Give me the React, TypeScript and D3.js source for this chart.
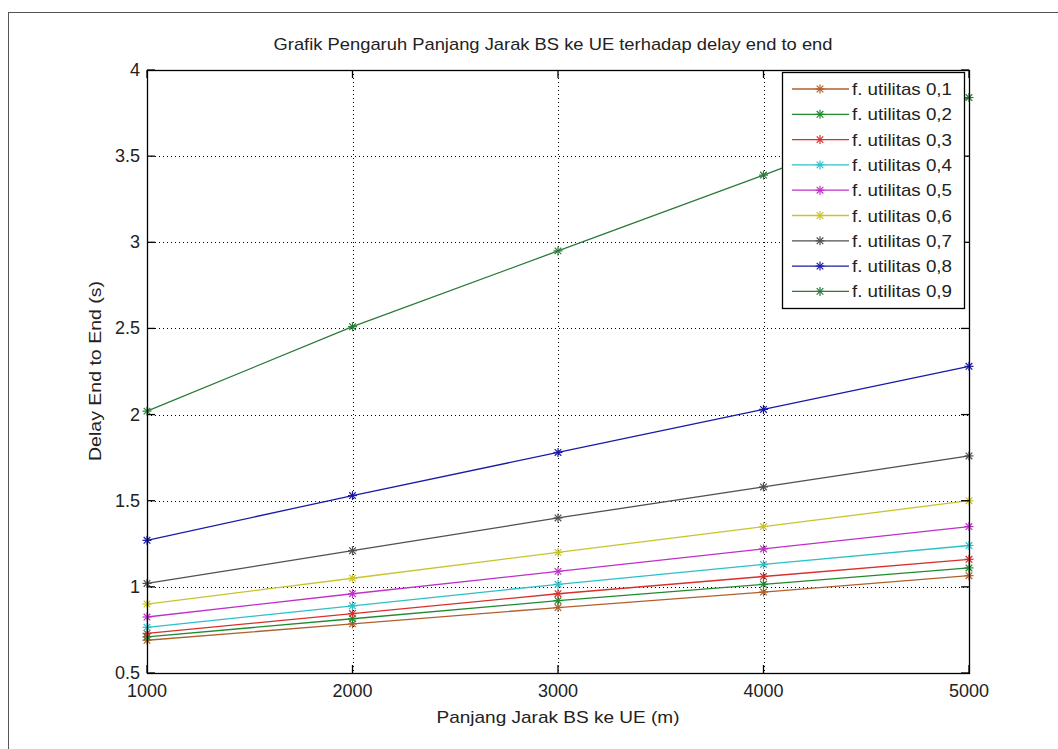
import React from "react";
import * as d3 from "d3";

const distances = [1000, 2000, 3000, 4000, 5000];
const xTicks = [1000, 2000, 3000, 4000, 5000];
const yTicks = [0.5, 1, 1.5, 2, 2.5, 3, 3.5, 4];
const seriesNames = [
  "f. utilitas 0,1", "f. utilitas 0,2", "f. utilitas 0,3", "f. utilitas 0,4", "f. utilitas 0,5",
  "f. utilitas 0,6", "f. utilitas 0,7", "f. utilitas 0,8", "f. utilitas 0,9",
];
const u01 = [0.69, 0.785, 0.88, 0.97, 1.065];
const u02 = [0.71, 0.815, 0.92, 1.015, 1.11];
const u03 = [0.73, 0.845, 0.96, 1.06, 1.16];
const u04 = [0.765, 0.89, 1.015, 1.13, 1.24];
const u05 = [0.825, 0.96, 1.09, 1.22, 1.35];
const u06 = [0.9, 1.05, 1.2, 1.35, 1.5];
const u07 = [1.02, 1.21, 1.4, 1.58, 1.76];
const u08 = [1.27, 1.53, 1.78, 2.03, 2.28];
const u09 = [2.02, 2.51, 2.95, 3.39, 3.84];
const seriesValues = [u01, u02, u03, u04, u05, u06, u07, u08, u09];
const seriesColors = [
  "#b0602c", "#1f8a2f", "#d8302c", "#2cc0c8", "#c030c8",
  "#c8c42c", "#505050", "#1a1aa8", "#2a7a3a",
];

const L = 147, R = 969, T = 70, B = 673;

function Star({ x, y, color }: { x: number; y: number; color: string }) {
  const r = 4.5, d = 3.3;
  return (
    <g stroke={color} strokeWidth={1.2}>
      <line x1={x - r} y1={y} x2={x + r} y2={y} />
      <line x1={x} y1={y - r} x2={x} y2={y + r} />
      <line x1={x - d} y1={y - d} x2={x + d} y2={y + d} />
      <line x1={x - d} y1={y + d} x2={x + d} y2={y - d} />
    </g>
  );
}

export default function App() {
  const x = d3.scaleLinear().domain([1000, 5000]).range([L, R]);
  const y = d3.scaleLinear().domain([0.5, 4]).range([B, T]);
  const line = d3.line<number>().x((_, i) => x(distances[i])).y((v) => y(v));
  const font = "'Liberation Sans Narrow', 'Liberation Sans', Arial, sans-serif";
  const legX = 782, legY = 72, legW = 182, legH = 236, legStep = 25.3, legFirst = 89;

  return (
    <svg width={1058} height={749} style={{ position: "absolute", left: 0, top: 0, background: "#fff" }} fontFamily={font}>
      <rect x={0} y={0} width={1058} height={749} fill="#fff" />
      <rect x={8.5} y={12.5} width={1060} height={760} fill="#fff" stroke="#555" strokeWidth={1} />
      {/* grid */}
      <g stroke="#000" strokeWidth={1} strokeDasharray="1,3">
        {xTicks.slice(1, -1).map((t) => (
          <line key={"gx" + t} x1={Math.round(x(t)) + 0.5} x2={Math.round(x(t)) + 0.5} y1={T} y2={B} />
        ))}
        {yTicks.slice(1, -1).map((t) => (
          <line key={"gy" + t} x1={L} x2={R} y1={Math.round(y(t)) + 0.5} y2={Math.round(y(t)) + 0.5} />
        ))}
      </g>
      {/* series */}
      {seriesValues.map((vals, si) => (
        <g key={si}>
          <path d={line(vals) || ""} fill="none" stroke={seriesColors[si]} strokeWidth={1.3} />
          {vals.map((v, i) => (
            <Star key={i} x={x(distances[i])} y={y(v)} color={seriesColors[si]} />
          ))}
        </g>
      ))}
      {/* axes box */}
      <rect x={L + 0.5} y={T + 0.5} width={R - L} height={B - T} fill="none" stroke="#000" strokeWidth={1.3} />
      <g stroke="#000" strokeWidth={1.3}>
        {xTicks.map((t) => (
          <g key={"tx" + t}>
            <line x1={x(t)} x2={x(t)} y1={B} y2={B - 8} />
            <line x1={x(t)} x2={x(t)} y1={T} y2={T + 8} />
          </g>
        ))}
        {yTicks.map((t) => (
          <g key={"ty" + t}>
            <line x1={L} x2={L + 8} y1={y(t)} y2={y(t)} />
            <line x1={R} x2={R - 8} y1={y(t)} y2={y(t)} />
          </g>
        ))}
      </g>
      {/* tick labels */}
      <g fontSize={18} fill="#222">
        {xTicks.map((t) => (
          <text key={"lx" + t} x={x(t)} y={697} textAnchor="middle">{t}</text>
        ))}
        {yTicks.map((t) => (
          <text key={"ly" + t} x={140} y={y(t) + 6} textAnchor="end">{t}</text>
        ))}
      </g>
      {/* title and labels */}
      <text x={553} y={50} fontSize={17} textAnchor="middle" fill="#222" textLength={559} lengthAdjust="spacingAndGlyphs">
        Grafik Pengaruh Panjang Jarak BS ke UE terhadap delay end to end
      </text>
      <text x={558} y={723} fontSize={17} textAnchor="middle" fill="#222" textLength={243} lengthAdjust="spacingAndGlyphs">
        Panjang Jarak BS ke UE (m)
      </text>
      <text transform="translate(101,371) rotate(-90)" fontSize={17} textAnchor="middle" fill="#222" textLength={180} lengthAdjust="spacingAndGlyphs">
        Delay End to End (s)
      </text>
      {/* legend */}
      <rect x={legX + 0.5} y={legY + 0.5} width={legW} height={legH} fill="#fff" stroke="#000" strokeWidth={1.3} />
      {seriesNames.map((name, i) => {
        const ly = legFirst + i * legStep;
        return (
          <g key={"lg" + i}>
            <line x1={792} x2={849} y1={ly} y2={ly} stroke={seriesColors[i]} strokeWidth={1.3} />
            <Star x={820} y={ly} color={seriesColors[i]} />
            <text x={852} y={ly + 6} fontSize={17} fill="#222" textLength={100} lengthAdjust="spacingAndGlyphs">{name}</text>
          </g>
        );
      })}
    </svg>
  );
}
